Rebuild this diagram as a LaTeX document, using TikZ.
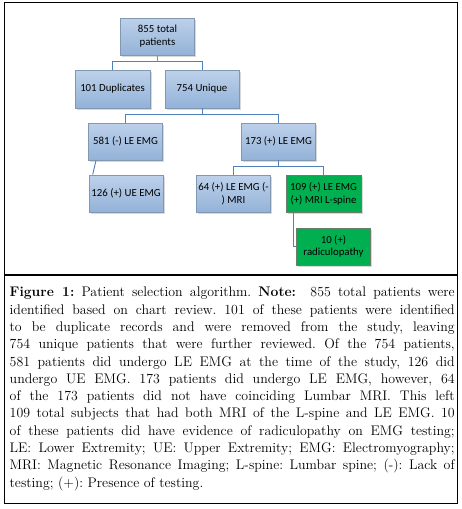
\documentclass[tikz,border=0pt]{standalone}
\usepackage{fontspec}
\newfontfamily\boxfont{Carlito}
\usetikzlibrary{shadows}
\definecolor{bluetop}{HTML}{BDD1EA}
\definecolor{bluebot}{HTML}{93B2D8}
\definecolor{blueedge}{HTML}{8197B2}
\definecolor{greenfill}{HTML}{00B050}
\definecolor{greenedge}{HTML}{6A7F6A}
\definecolor{connblue}{HTML}{4F81BD}
\definecolor{stubgray}{HTML}{8C8C8C}
\tikzset{
  box/.style={rectangle, inner sep=1pt, align=center, font=\boxfont\fontsize{10.8}{12.8}\selectfont,
    line width=0.9pt, drop shadow={shadow xshift=1.6pt, shadow yshift=-1.6pt, fill=black!25, opacity=0.6}},
  bluebox/.style={box, draw=blueedge, top color=bluetop, bottom color=bluebot},
  greenbox/.style={box, draw=greenedge, fill=greenfill},
  conn/.style={draw=connblue, line width=0.9pt},
  stub/.style={draw=stubgray, line width=1.6pt},
  frame/.style={draw=black, line width=1.1pt}
}
\begin{document}
\begin{tikzpicture}[x=1pt, y=-1pt]
\useasboundingbox (0,0) rectangle (462,509);
\fill[white] (0,0) rectangle (462,509);
% frames
\draw[frame] (4.5,2.5) rectangle (457.5,503.5);
\draw[frame] (4.5,275) -- (457.5,275);
% nodes
\node[bluebox, minimum width=73.5pt, minimum height=37pt] (total) at (157.5,36.5) {855 total\\patients};
\node[bluebox, minimum width=75pt, minimum height=38pt] (dup) at (112.5,89) {101 Duplicates};
\node[bluebox, minimum width=74pt, minimum height=38pt] (uniq) at (202,89) {754 Unique};
\node[bluebox, minimum width=74pt, minimum height=37pt] (neg) at (125.5,141.5) {581 (-) LE EMG};
\node[bluebox, minimum width=74.5pt, minimum height=37pt] (pos) at (278.5,141.5) {173 (+) LE EMG};
\node[bluebox, minimum width=74pt, minimum height=37pt] (ue) at (126,193.5) {126 (+) UE EMG};
\node[bluebox, minimum width=74pt, minimum height=37.5pt] (nomri) at (233.5,194) {64 (+) LE EMG (-\\) MRI};
\node[greenbox, minimum width=75pt, minimum height=37.5pt] (mri) at (323.5,194) {109 (+) LE EMG\\(+) MRI L-spine};
\node[greenbox, minimum width=74pt, minimum height=37pt] (rad) at (333.5,246.5) {10 (+)\\radiculopathy};
% connectors
\coordinate (j1) at (157.5,61.7);
\coordinate (j2) at (202,114.3);
\coordinate (j3) at (278.5,166.7);
\draw[conn] (dup.north) |- (j1) -| (uniq.north);
\draw[stub] (total.south) -- (j1);
\draw[conn] (uniq.south) -- (j2);
\draw[conn] (neg.north) |- (j2) -| (pos.north);
\draw[conn] ([xshift=-29.5pt]neg.south) -- ([xshift=-33.3pt]ue.north);
\draw[conn] (pos.south) -- (j3);
\draw[conn] (nomri.north) |- (j3) -| (mri.north);
\draw[conn] ([xshift=-30.2pt]mri.south) |- (rad.west);
% caption
\node[anchor=north west, inner sep=0pt, text width=445pt, align=justify,
      font=\fontsize{13.9}{17.3}\selectfont] (cap) at (9.5,287) {%
\frenchspacing\tolerance=9999\hyphenpenalty=10000\emergencystretch=20pt
\textbf{Figure 1:} Patient selection algorithm. \textbf{Note:}\ \ 855 total patients were\linebreak
identified based on chart review. 101 of these patients were identified\linebreak
to be duplicate records and were removed from the study, leaving\linebreak
754 unique patients that were further reviewed. Of the 754 patients,\linebreak
581 patients did undergo LE EMG at the time of the study, 126 did\linebreak
undergo UE EMG. 173 patients did undergo LE EMG, however, 64\linebreak
of the 173 patients did not have coinciding Lumbar MRI. This left\linebreak
109 total subjects that had both MRI of the L-spine and LE EMG. 10\linebreak
of these patients did have evidence of radiculopathy on EMG testing;\linebreak
LE: Lower Extremity; UE: Upper Extremity; EMG: Electromyography;\linebreak
MRI: Magnetic Resonance Imaging; L-spine: Lumbar spine; (-): Lack of\linebreak
testing; (+): Presence of testing.};
\end{tikzpicture}
\end{document}
